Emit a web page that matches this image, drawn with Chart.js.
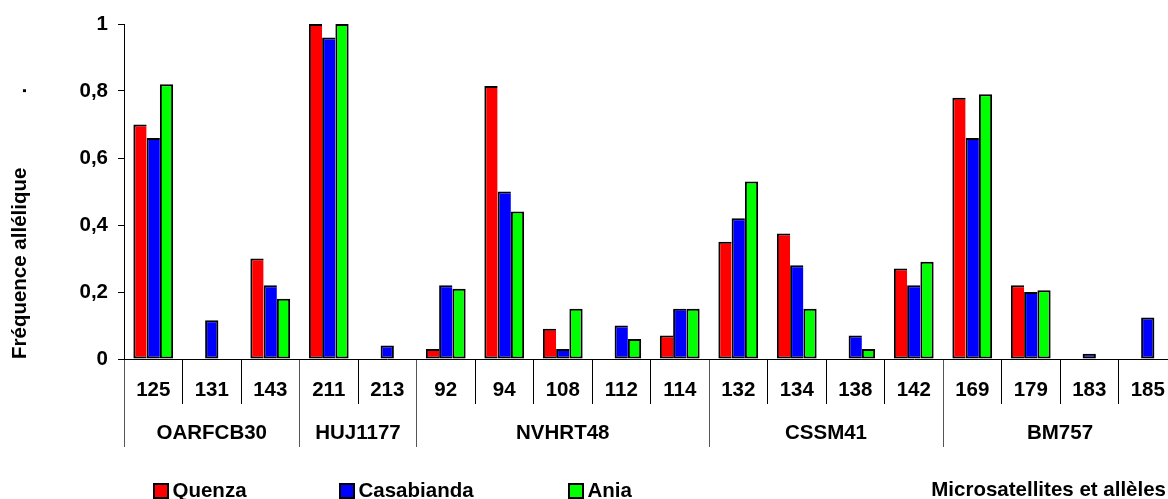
<!DOCTYPE html>
<html>
<head>
<meta charset="utf-8">
<script src="https://cdn.jsdelivr.net/npm/chart.js@4/dist/chart.umd.min.js"></script>
<style>
  html, body { margin: 0; padding: 0; background: #fff; overflow: hidden; }
  #wrap { width: 1180px; height: 499px; position: relative; }
</style>
</head>
<body>
<div id="wrap"><canvas id="c"></canvas></div>
<script>
// ---- data ----
const alleles = ['125','131','143','211','213','92','94','108','112','114','132','134','138','142','169','179','183','185'];
const groups = ['OARFCB30','HUJ1177','NVHRT48','CSSM41','BM757'];
const groupSizes = [3, 2, 5, 4, 4];
const seriesNames = ['Quenza', 'Casabianda', 'Ania'];
const quenza     = [0.70, null, 0.30, 1.00, null, 0.03, 0.815, 0.09, null, 0.07, 0.35, 0.375, null, 0.27, 0.78, 0.22, null, null];
const casabianda = [0.66, 0.116, 0.22, 0.96, 0.04, 0.22, 0.50, 0.03, 0.10, 0.15, 0.42, 0.28, 0.07, 0.22, 0.66, 0.20, 0.016, 0.124];
const ania       = [0.82, null, 0.18, 1.00, null, 0.21, 0.44, 0.15, 0.06, 0.15, 0.53, 0.15, 0.03, 0.29, 0.79, 0.205, null, null];
const yTickValues = [0, 0.2, 0.4, 0.6, 0.8, 1];
const yTickLabels = ['0', '0,2', '0,4', '0,6', '0,8', '1'];
const yTitle = 'Fréquence allélique             .';
const xTitle = 'Microsatellites et allèles';

// derived group geometry (in category units)
const boundaryIdx = [0];
groupSizes.forEach(n => boundaryIdx.push(boundaryIdx[boundaryIdx.length - 1] + n));
const boundaryVals = boundaryIdx.map(i => i - 0.5);
const groupCenters = groups.map((g, k) => (boundaryVals[k] + boundaryVals[k + 1]) / 2);
const x2Ticks = boundaryVals.concat(groupCenters).sort((a, b) => a - b);

const FONT = { family: '"Liberation Sans", Arial, sans-serif', size: 20.5, weight: 'bold', lineHeight: 1.2 };
const CSS_FONT = 'bold 20.5px "Liberation Sans", Arial, sans-serif';
const SEP_GRAY = '#555555';

// shared outlines between adjacent bars (like the original): right edge only when no bar follows
const barBorder = (c) => {
  const dsets = c.chart.data.datasets;
  const next = dsets[c.datasetIndex + 1];
  const hasNext = next && next.data[c.dataIndex] != null;
  return { top: 2, left: 2, bottom: 2, right: hasNext ? 0 : 2 };
};

const bottomTexts = {
  id: 'bottomTexts',
  afterDraw(chart) {
    const ctx = chart.ctx;
    ctx.save();
    ctx.font = CSS_FONT;
    ctx.textBaseline = 'middle';
    const boxX = [153, 339, 568];
    chart.data.datasets.forEach((ds, i) => {
      const x = boxX[i];
      ctx.fillStyle = ds.backgroundColor;
      ctx.fillRect(x + 1, 484, 14, 14);
      ctx.lineWidth = 2;
      ctx.strokeStyle = '#000';
      ctx.strokeRect(x + 1, 484, 14, 14);
      ctx.fillStyle = '#000';
      ctx.textAlign = 'left';
      ctx.fillText(ds.label, x + 19.5, 491);
    });
    ctx.textAlign = 'right';
    ctx.fillText(xTitle, 1166, 490);
    ctx.restore();
  }
};

new Chart(document.getElementById('c'), {
  type: 'bar',
  data: {
    labels: alleles,
    datasets: [
      { label: seriesNames[0], data: quenza, backgroundColor: '#FF0000' },
      { label: seriesNames[1], data: casabianda, backgroundColor: '#0000FF' },
      { label: seriesNames[2], data: ania, backgroundColor: '#00FF00' }
    ].map(d => Object.assign(d, { borderColor: '#000', borderWidth: barBorder, borderSkipped: false,
                                   categoryPercentage: 0.68, barPercentage: 1.0 }))
  },
  options: {
    responsive: true,
    maintainAspectRatio: false,
    animation: false,
    devicePixelRatio: 1,
    layout: { padding: { top: 24, right: 3, bottom: 50, left: 0 } },
    plugins: { legend: { display: false }, tooltip: { enabled: false } },
    scales: {
      x: {
        type: 'category',
        position: 'bottom',
        weight: 0,
        offset: true,
        border: { display: true, color: '#000', width: 1 },
        grid: {
          offset: true,
          drawOnChartArea: false,
          drawTicks: true,
          tickLength: 45,
          lineWidth: 1,
          color: (c) => boundaryIdx.includes(c.index) ? SEP_GRAY : '#000'
        },
        ticks: { font: FONT, color: '#000', padding: -26, autoSkip: false, maxRotation: 0, minRotation: 0 },
        afterFit: (s) => { s.height = 45; }
      },
      x2: {
        type: 'linear',
        position: 'bottom',
        weight: 1,
        min: -0.5,
        max: 17.5,
        offset: false,
        border: { display: false },
        grid: {
          offset: false,
          drawOnChartArea: false,
          drawTicks: true,
          tickLength: 43,
          lineWidth: 1,
          color: (c) => (c.tick && boundaryVals.includes(c.tick.value)) ? SEP_GRAY : 'rgba(0,0,0,0)'
        },
        afterBuildTicks: (s) => { s.ticks = x2Ticks.map(v => ({ value: v })); },
        ticks: {
          font: FONT, color: '#000', padding: -26, autoSkip: false, maxRotation: 0, minRotation: 0,
          callback: (v) => { const k = groupCenters.indexOf(v); return k >= 0 ? groups[k] : ''; }
        },
        afterFit: (s) => { s.height = 45; }
      },
      y: {
        type: 'linear',
        position: 'left',
        min: 0,
        max: 1,
        border: { display: true, color: '#000', width: 1 },
        grid: { drawOnChartArea: false, drawTicks: true, tickLength: 6, color: '#000', lineWidth: 1 },
        afterBuildTicks: (s) => { s.ticks = yTickValues.map(v => ({ value: v })); },
        ticks: {
          font: FONT, color: '#000', padding: 10,
          callback: (v, i) => yTickLabels[i]
        },
        title: {
          display: true,
          text: yTitle,
          align: 'start',
          font: FONT,
          color: '#000',
          padding: { top: 8, bottom: 0 }
        },
        afterFit: (s) => { s.width = 124; }
      }
    }
  },
  plugins: [bottomTexts]
});
</script>
</body>
</html>
